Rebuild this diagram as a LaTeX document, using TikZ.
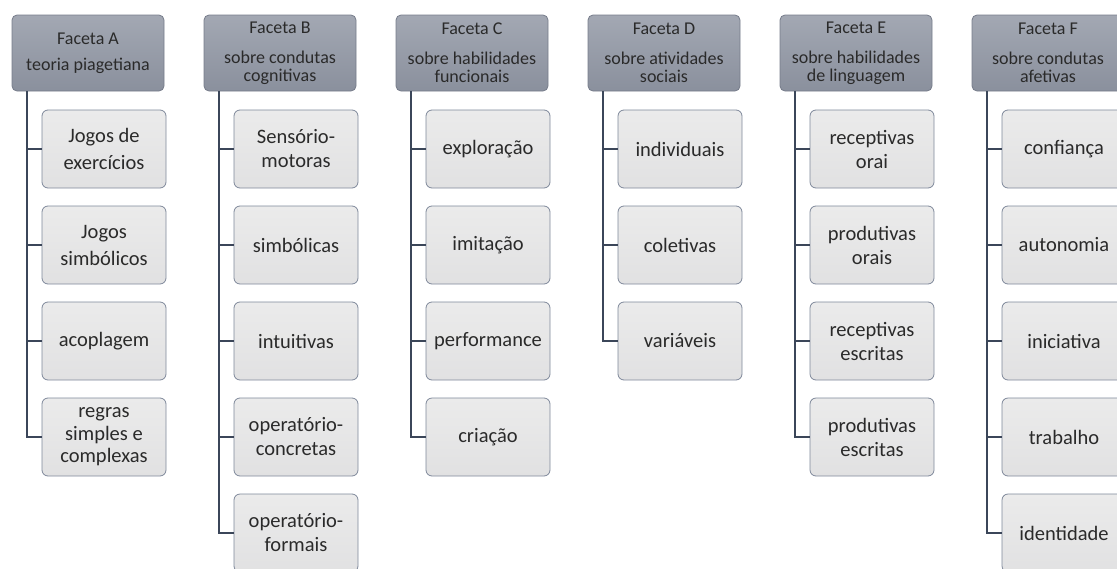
\documentclass[tikz,border=0pt]{standalone}
\usepackage{fontspec}
\setmainfont{Carlito}
\usepackage{tikz}
\usetikzlibrary{positioning}
\usepackage{xcolor}
\definecolor{facetop}{HTML}{A3A8B3}
\definecolor{facebot}{HTML}{8A909D}
\definecolor{faceline}{HTML}{767C8A}
\definecolor{leaftop}{HTML}{EBEBEB}
\definecolor{leafbot}{HTML}{E1E1E2}
\definecolor{leafline}{HTML}{7E889A}
\definecolor{trunkcol}{HTML}{3B4659}
\definecolor{txt}{HTML}{2A2A2A}

\tikzset{
	faceta/.style={draw=faceline, line width=0.8pt, rounded corners=5pt, top color=facetop, bottom color=facebot,
		minimum width=152pt, minimum height=76pt, inner sep=2pt, align=center, text=txt,
		font=\fontsize{18}{18}\selectfont},
	folha/.style={draw=leafline, line width=0.8pt, rounded corners=6pt, top color=leaftop, bottom color=leafbot,
		minimum width=124pt, minimum height=78pt, inner sep=2pt, align=center, text=txt,
		font=\fontsize{20.5}{24}\selectfont},
	trunk/.style={draw=trunkcol, line width=2.6pt}
}

\begin{document}
\begin{tikzpicture}[x=1pt, y=-1pt]
	\useasboundingbox (0,0) rectangle (1117,568);
	\node (hA) [faceta] at (88, 53) {Faceta A\\[8pt]teoria piagetiana};
	\node (hB) [faceta] at (280, 53) {Faceta B\\[12pt]sobre condutas\\cognitivas};
	\node (hC) [faceta] at (472, 53) {Faceta C\\[12pt]sobre habilidades\\funcionais};
	\node (hD) [faceta] at (664, 53) {Faceta D\\[12pt]sobre atividades\\sociais};
	\node (hE) [faceta] at (856, 53) {Faceta E\\[12pt]sobre habilidades\\de linguagem};
	\node (hF) [faceta] at (1048, 53) {Faceta F\\[12pt]sobre condutas\\afetivas};

	\node (a1) [folha] at (104, 149) {Jogos de\\[3pt]exercícios};
	\node (a2) [folha] at (104, 245) {Jogos\\[3pt]simbólicos};
	\node (a3) [folha] at (104, 341) {acoplagem};
	\node (a4) [folha, font=\fontsize{20.5}{22.5}\selectfont] at (104, 437) {regras\\simples e\\complexas};

	\node (b1) [folha] at (296, 149) {Sensório-\\motoras};
	\node (b2) [folha] at (296, 245) {simbólicas};
	\node (b3) [folha] at (296, 341) {intuitivas};
	\node (b4) [folha] at (296, 437) {operatório-\\concretas};
	\node (b5) [folha] at (296, 533) {operatório-\\formais};

	\node (c1) [folha] at (488, 149) {exploração};
	\node (c2) [folha] at (488, 245) {imitação};
	\node (c3) [folha] at (488, 341) {performance};
	\node (c4) [folha] at (488, 437) {criação};

	\node (d1) [folha] at (680, 149) {individuais};
	\node (d2) [folha] at (680, 245) {coletivas};
	\node (d3) [folha] at (680, 341) {variáveis};

	\node (e1) [folha] at (872, 149) {receptivas\\orai};
	\node (e2) [folha] at (872, 245) {produtivas\\orais};
	\node (e3) [folha] at (872, 341) {receptivas\\escritas};
	\node (e4) [folha] at (872, 437) {produtivas\\escritas};

	\node (f1) [folha] at (1064, 149) {confiança};
	\node (f2) [folha] at (1064, 245) {autonomia};
	\node (f3) [folha] at (1064, 341) {iniciativa};
	\node (f4) [folha] at (1064, 437) {trabalho};
	\node (f5) [folha] at (1064, 533) {identidade};

	\coordinate (tA) at ([xshift=15.5pt]hA.south west);
	\coordinate (tB) at ([xshift=15.5pt]hB.south west);
	\coordinate (tC) at ([xshift=15.5pt]hC.south west);
	\coordinate (tD) at ([xshift=15.5pt]hD.south west);
	\coordinate (tE) at ([xshift=15.5pt]hE.south west);
	\coordinate (tF) at ([xshift=15.5pt]hF.south west);

	\draw[trunk] (tA) |- (a4.west);
	\draw[trunk] (tA |- a1.west) -- (a1.west);
	\draw[trunk] (tA |- a2.west) -- (a2.west);
	\draw[trunk] (tA |- a3.west) -- (a3.west);

	\draw[trunk] (tB) |- (b5.west);
	\draw[trunk] (tB |- b1.west) -- (b1.west);
	\draw[trunk] (tB |- b2.west) -- (b2.west);
	\draw[trunk] (tB |- b3.west) -- (b3.west);
	\draw[trunk] (tB |- b4.west) -- (b4.west);

	\draw[trunk] (tC) |- (c4.west);
	\draw[trunk] (tC |- c1.west) -- (c1.west);
	\draw[trunk] (tC |- c2.west) -- (c2.west);
	\draw[trunk] (tC |- c3.west) -- (c3.west);

	\draw[trunk] (tD) |- (d3.west);
	\draw[trunk] (tD |- d1.west) -- (d1.west);
	\draw[trunk] (tD |- d2.west) -- (d2.west);

	\draw[trunk] (tE) |- (e4.west);
	\draw[trunk] (tE |- e1.west) -- (e1.west);
	\draw[trunk] (tE |- e2.west) -- (e2.west);
	\draw[trunk] (tE |- e3.west) -- (e3.west);

	\draw[trunk] (tF) |- (f5.west);
	\draw[trunk] (tF |- f1.west) -- (f1.west);
	\draw[trunk] (tF |- f2.west) -- (f2.west);
	\draw[trunk] (tF |- f3.west) -- (f3.west);
	\draw[trunk] (tF |- f4.west) -- (f4.west);
\end{tikzpicture}
\end{document}
